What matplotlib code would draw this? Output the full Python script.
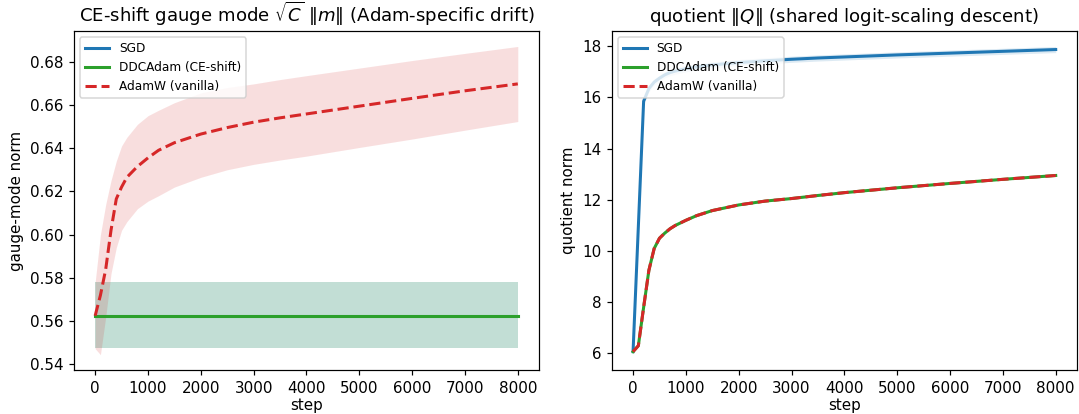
import matplotlib
matplotlib.use("Agg")
import matplotlib.pyplot as plt
import numpy as np

# logged steps
steps = [0, 100, 200, 300, 400, 500, 600, 700, 800, 1000, 1200, 1500,
         2000, 2500, 3000, 3500, 4000, 5000, 6000, 7000, 8000]

# left panel: CE-shift gauge mode sqrt(C)*||m||
gauge_const = 0.5625
gauge_const_lo = 0.5475
gauge_const_hi = 0.578
gauge_adamw = [0.5625, 0.572, 0.584, 0.602, 0.6165, 0.622, 0.6265, 0.629, 0.6315,
               0.6355, 0.639, 0.6425, 0.6465, 0.6495, 0.652, 0.654, 0.6558,
               0.6594, 0.663, 0.6665, 0.6697]
gauge_adamw_lo = [0.5473, 0.5445, 0.562, 0.582, 0.594, 0.602, 0.606, 0.609, 0.612,
                  0.6155, 0.618, 0.622, 0.6265, 0.630, 0.6325, 0.6345, 0.6363,
                  0.6403, 0.6442, 0.6483, 0.6523]
gauge_adamw_hi = [0.578, 0.600, 0.614, 0.625, 0.634, 0.641, 0.645, 0.648, 0.651,
                  0.655, 0.6575, 0.661, 0.6655, 0.668, 0.6697, 0.6717, 0.6735,
                  0.677, 0.6805, 0.6838, 0.687]

# right panel: quotient ||Q||
quot_sgd = [6.07, 10.95, 15.85, 16.35, 16.6, 16.75, 16.88, 16.97, 17.03, 17.12,
            17.19, 17.27, 17.36, 17.43, 17.49, 17.54, 17.58, 17.66, 17.73, 17.80, 17.87]
quot_sgd_std = 0.12
quot_adam = [6.07, 6.30, 7.8, 9.25, 10.1, 10.5, 10.7, 10.87, 11.0, 11.2,
             11.38, 11.58, 11.8, 11.95, 12.05, 12.17, 12.28, 12.47, 12.64, 12.80, 12.95]
quot_adam_std = 0.03

x = np.array(steps)

fig, (ax1, ax2) = plt.subplots(1, 2, figsize=(1079 / 109, 414 / 109), dpi=109)
fig.subplots_adjust(left=0.0686, right=0.998, top=0.925, bottom=0.106, wspace=0.157)

# left
const = np.full(len(steps), gauge_const)
ax1.fill_between(x, gauge_const_lo, gauge_const_hi, color="C0", alpha=0.15, linewidth=0)
ax1.plot(x, const, color="C0", lw=2, label="SGD")
ax1.fill_between(x, gauge_const_lo, gauge_const_hi, color="C2", alpha=0.15, linewidth=0)
ax1.plot(x, const, color="C2", lw=2, label="DDCAdam (CE-shift)")
ax1.fill_between(x, gauge_adamw_lo, gauge_adamw_hi, color="C3", alpha=0.15, linewidth=0)
ax1.plot(x, gauge_adamw, color="C3", lw=2, ls="--", label="AdamW (vanilla)")
ax1.set_title(r"CE-shift gauge mode $\sqrt{C}$ $\|m\|$ (Adam-specific drift)", fontsize=12)
ax1.set_xlabel("step", labelpad=1.5)
ax1.set_ylabel("gauge-mode norm")
ax1.legend(loc="upper left", fontsize=8)

# right
sgd = np.array(quot_sgd)
adam = np.array(quot_adam)
ax2.fill_between(x, sgd - quot_sgd_std, sgd + quot_sgd_std, color="C0", alpha=0.15, linewidth=0)
ax2.plot(x, sgd, color="C0", lw=2, label="SGD")
ax2.fill_between(x, adam - quot_adam_std, adam + quot_adam_std, color="C2", alpha=0.15, linewidth=0)
ax2.plot(x, adam, color="C2", lw=2, label="DDCAdam (CE-shift)")
ax2.fill_between(x, adam - quot_adam_std, adam + quot_adam_std, color="C3", alpha=0.15, linewidth=0)
ax2.plot(x, adam, color="C3", lw=2, ls="--", label="AdamW (vanilla)")
ax2.set_title(r"quotient $\|Q\|$ (shared logit-scaling descent)", fontsize=12)
ax2.set_xlabel("step", labelpad=1.5)
ax2.set_ylabel("quotient norm")
ax2.legend(loc="upper left", fontsize=8)

for ax in (ax1, ax2):
    ax.set_xticks(range(0, 8001, 1000))

fig.savefig("out.png", dpi=109)
plt.close(fig)
